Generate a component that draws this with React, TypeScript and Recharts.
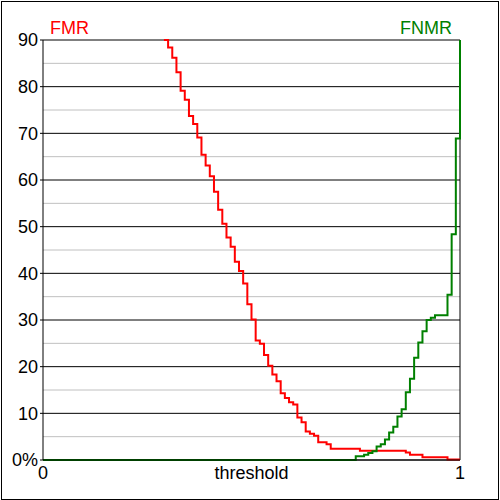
import React from 'react';
import { LineChart, Line, XAxis, YAxis, CartesianGrid, ReferenceLine } from 'recharts';

const fmrThresholds = [0.29, 0.30, 0.31, 0.32, 0.33, 0.34, 0.35, 0.36, 0.37, 0.38, 0.39, 0.40, 0.41, 0.42, 0.43, 0.44, 0.45, 0.46, 0.47, 0.48, 0.49, 0.50, 0.51, 0.52, 0.53, 0.54, 0.55, 0.56, 0.57, 0.58, 0.59, 0.60, 0.61, 0.62, 0.63, 0.64, 0.65, 0.66, 0.68, 0.69, 0.76, 0.87, 0.88, 0.91, 0.97, 1.0];
const fmrValues = [90, 88.4, 86.2, 83.1, 79.1, 77.2, 73.7, 72.0, 69.1, 65.4, 63.1, 60.8, 57.5, 53.6, 50.6, 47.7, 45.7, 42.5, 40.5, 37.8, 33.4, 30.1, 25.6, 24.9, 22.5, 20.2, 18.3, 16.9, 14.3, 13.3, 12.4, 11.9, 9.1, 8.1, 6.1, 5.6, 5.2, 3.8, 3.4, 2.4, 2.0, 1.6, 1.1, 0.6, 0.1, 0.1];

const fnmrThresholds = [0, 0.75, 0.77, 0.78, 0.79, 0.80, 0.81, 0.82, 0.83, 0.84, 0.85, 0.86, 0.87, 0.88, 0.89, 0.90, 0.91, 0.92, 0.93, 0.94, 0.97, 0.98, 0.99, 1.0];
const fnmrValues = [0, 0.8, 1.1, 1.5, 1.9, 2.9, 3.4, 4.4, 5.9, 7.1, 9.3, 10.9, 14.5, 17.4, 21.9, 25.2, 27.6, 30.0, 30.5, 31.0, 35.4, 48.4, 68.9, 90];

const yMajorTicks = [0, 10, 20, 30, 40, 50, 60, 70, 80, 90];
const yMinorTicks = [5, 15, 25, 35, 45, 55, 65, 75, 85];
const xTicks = [0, 1];

const fmrData = fmrThresholds.map((t, i) => ({ t, v: fmrValues[i] }));
const fnmrData = fnmrThresholds.map((t, i) => ({ t, v: fnmrValues[i] }));

const FONT = '"Liberation Sans", Arial, sans-serif';
const FS = 18;

export default function App() {
  return (
    <div style={{ position: 'absolute', left: 0, top: 0, width: 500, height: 500, background: '#fff', fontFamily: FONT }}>
      <LineChart width={500} height={500} margin={{ top: 40, right: 40, bottom: 0, left: 0 }}>
        <CartesianGrid vertical={false} stroke="#000" strokeOpacity={1} />
        {yMinorTicks.map((y) => (
          <ReferenceLine key={y} y={y} stroke="#c0c0c0" strokeWidth={1} />
        ))}
        <ReferenceLine x={1} stroke="#000" strokeWidth={1} />
        <XAxis
          type="number"
          dataKey="t"
          domain={[0, 1]}
          ticks={xTicks}
          height={40}
          axisLine={{ stroke: '#000' }}
          tickLine={false}
          tickSize={6}
          tickMargin={0}
          tick={{ fill: '#000', fontSize: FS, fontFamily: FONT }}
          label={{ value: 'threshold', position: 'insideTop', offset: 6, fill: '#000', fontSize: FS, fontFamily: FONT }}
        />
        <YAxis
          type="number"
          domain={[0, 90]}
          ticks={yMajorTicks}
          width={43}
          axisLine={{ stroke: '#000' }}
          tickLine={{ stroke: '#000' }}
          tickSize={3}
          tickMargin={2}
          tick={{ fill: '#000', fontSize: FS, fontFamily: FONT }}
          tickFormatter={(v: number) => (v === 0 ? '0%' : String(v))}
        />
        <Line data={fmrData} dataKey="v" type="stepAfter" stroke="#ff0000" strokeWidth={2} dot={false} isAnimationActive={false} />
        <Line data={fnmrData} dataKey="v" type="stepAfter" stroke="#008000" strokeWidth={2} dot={false} isAnimationActive={false} />
      </LineChart>
      <div style={{ position: 'absolute', left: 50, top: 19, fontSize: FS, lineHeight: 1, color: '#ff0000', fontFamily: FONT }}>FMR</div>
      <div style={{ position: 'absolute', left: 400, top: 19, fontSize: FS, lineHeight: 1, color: '#008000', fontFamily: FONT }}>FNMR</div>
      <div style={{ position: 'absolute', left: 1, top: 1, width: 498, height: 499, border: '1px solid #000', boxSizing: 'border-box', pointerEvents: 'none' }} />
    </div>
  );
}
